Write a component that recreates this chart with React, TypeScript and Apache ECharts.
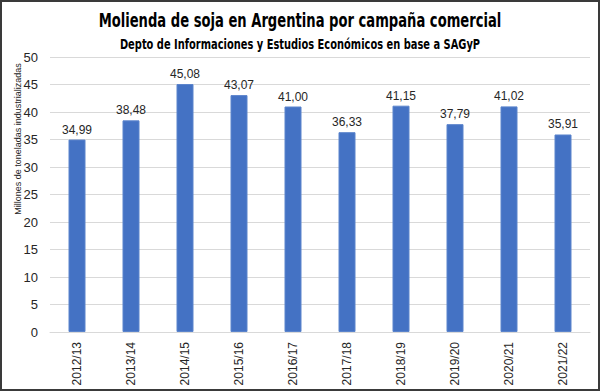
import React, { useEffect, useRef } from "react";
import * as echarts from "echarts";

const categories = ["2012/13", "2013/14", "2014/15", "2015/16", "2016/17", "2017/18", "2018/19", "2019/20", "2020/21", "2021/22"];
const values = [34.99, 38.48, 45.08, 43.07, 41.0, 36.33, 41.15, 37.79, 41.02, 35.91];
const titleText = "Molienda de soja en Argentina por campaña comercial";
const subtitleText = "Depto de Informaciones y Estudios Económicos en base a SAGyP";
const yAxisTitle = "Millones de toneladas industrializadas";

export default function App() {
  const ref = useRef<HTMLDivElement>(null);
  useEffect(() => {
    document.body.style.margin = "0";
    const chart = echarts.init(ref.current!, null, { renderer: "svg" });
    const titleFont = "'Liberation Sans Narrow', 'DejaVu Sans Condensed', sans-serif";
    chart.setOption({
      animation: false,
      backgroundColor: "#ffffff",
      grid: { left: 48, right: 8, top: 55, bottom: 57, containLabel: false },
      xAxis: {
        type: "category",
        data: categories,
        axisLine: { show: true, lineStyle: { color: "#d9d9d9", width: 1 } },
        axisTick: { show: false },
        axisLabel: {
          rotate: 90,
          color: "#262626",
          fontSize: 12,
          fontFamily: "'Liberation Sans', Arial, sans-serif",
          margin: 10,
        },
      },
      yAxis: {
        type: "value",
        min: 0,
        max: 50,
        interval: 5,
        axisLine: { show: false },
        axisTick: { show: false },
        splitLine: { lineStyle: { color: "#d9d9d9", width: 1 } },
        axisLabel: {
          color: "#262626",
          fontSize: 13,
          fontFamily: "'Liberation Sans', Arial, sans-serif",
          margin: 12,
        },
      },
      graphic: [
        {
          type: "text",
          x: 298,
          y: 18,
          scaleX: 0.73,
          style: {
            text: titleText,
            fontSize: 20,
            fontWeight: "bold",
            fontFamily: titleFont,
            fill: "#000000",
            align: "center",
            verticalAlign: "middle",
          },
        },
        {
          type: "text",
          x: 298,
          y: 42,
          scaleX: 0.785,
          style: {
            text: subtitleText,
            fontSize: 14,
            fontWeight: "bold",
            fontFamily: titleFont,
            fill: "#000000",
            align: "center",
            verticalAlign: "middle",
          },
        },
        {
          type: "text",
          x: 16,
          y: 137,
          rotation: Math.PI / 2,
          style: {
            text: yAxisTitle,
            fontSize: 9,
            fontFamily: "'Liberation Sans', Arial, sans-serif",
            fill: "#262626",
            align: "center",
            verticalAlign: "middle",
          },
        },
      ],
      series: [
        {
          type: "bar",
          data: values,
          barWidth: 17,
          itemStyle: { color: "#4472c4", borderColor: "#5b84cc", borderWidth: 1 },
          label: {
            show: true,
            position: "top",
            distance: 4,
            color: "#262626",
            fontSize: 12,
            fontFamily: "'Liberation Sans', Arial, sans-serif",
            formatter: (p: any) => p.value.toFixed(2).replace(".", ","),
          },
        },
      ],
    });
    return () => chart.dispose();
  }, []);
  return (
    <div
      style={{
        position: "fixed",
        left: 0,
        top: 0,
        width: 600,
        height: 391,
        boxSizing: "border-box",
        border: "2px solid #3a3a3a",
        background: "#fff",
      }}
    >
      <div ref={ref} style={{ width: 596, height: 387 }} />
    </div>
  );
}
